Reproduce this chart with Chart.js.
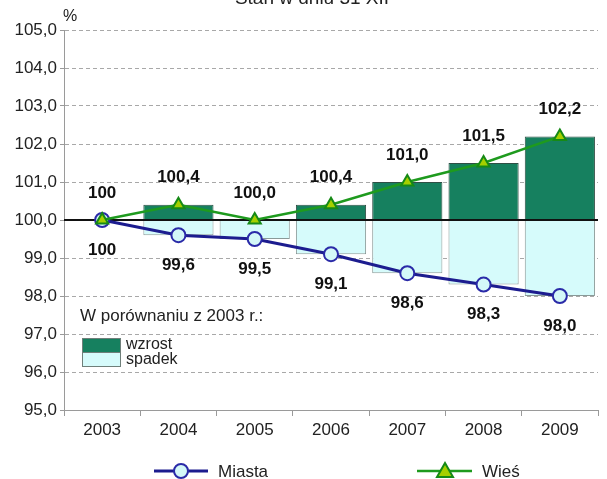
<!DOCTYPE html>
<html>
<head>
<meta charset="utf-8">
<script src="https://cdn.jsdelivr.net/npm/chart.js@4/dist/chart.umd.min.js"></script>
<style>
  html, body { margin: 0; padding: 0; background: #fff; }
  #wrap { width: 607px; height: 479px; }
</style>
</head>
<body>
<div id="wrap"><canvas id="chart" width="607" height="479"></canvas></div>
<script>
const years = ['2003', '2004', '2005', '2006', '2007', '2008', '2009'];
const miasta = [100, 99.6, 99.5, 99.1, 98.6, 98.3, 98.0];
const wies = [100, 100.4, 100.0, 100.4, 101.0, 101.5, 102.2];
const yTicks = [95, 96, 97, 98, 99, 100, 101, 102, 103, 104, 105];
const baseValue = 100;

const FONT = '"Liberation Sans", Arial, sans-serif';
const fmt = v => v.toFixed(1).replace('.', ',');
const pointLabel = (v, i) => (i === 0 ? String(v) : fmt(v));

// floating bars between 100 and each series value
const wzrost = wies.map(v => (v > baseValue ? [baseValue, v] : null));
const spadek = miasta.map(v => (v < baseValue ? [v, baseValue] : null));

const decor = {
  id: 'decor',
  afterDatasetDraw(chart, args) {
    if (args.meta.type !== 'bar') return;
    const { ctx, chartArea, scales } = chart;
    const y = scales.y.getPixelForValue(baseValue);
    ctx.save();
    ctx.strokeStyle = '#111';
    ctx.lineWidth = 2;
    ctx.beginPath();
    ctx.moveTo(chartArea.left, y);
    ctx.lineTo(chartArea.right, y);
    ctx.stroke();
    ctx.restore();
  },
  afterDraw(chart) {
    const { ctx } = chart;
    ctx.save();
    // cut-off title at the very top
    ctx.fillStyle = '#222';
    ctx.font = '19px ' + FONT;
    ctx.textAlign = 'center';
    ctx.textBaseline = 'alphabetic';
    ctx.fillText('Stan w dniu 31 XII', 312, 4);

    ctx.font = '16px ' + FONT;
    ctx.textAlign = 'left';
    ctx.textBaseline = 'middle';
    ctx.fillText('%', 63, 17);

    // value labels
    ctx.font = 'bold 17px ' + FONT;
    ctx.textAlign = 'center';
    ctx.fillStyle = '#111';
    const wMeta = chart.getDatasetMeta(3);
    const mMeta = chart.getDatasetMeta(2);
    wMeta.data.forEach((pt, i) => ctx.fillText(pointLabel(wies[i], i), pt.x, pt.y - 27));
    mMeta.data.forEach((pt, i) => ctx.fillText(pointLabel(miasta[i], i), pt.x, pt.y + 30));

    // inner legend for the bars
    ctx.font = '17px ' + FONT;
    ctx.textAlign = 'left';
    ctx.fillStyle = '#222';
    ctx.fillText('W porównaniu z 2003 r.:', 80, 316);
    ctx.fillStyle = '#16805f';
    ctx.fillRect(82, 338, 39, 14);
    ctx.fillStyle = '#d6fbfb';
    ctx.fillRect(82, 352, 39, 15);
    ctx.strokeStyle = '#6f7f7a';
    ctx.lineWidth = 1;
    ctx.strokeRect(82.5, 338.5, 38, 14);
    ctx.strokeRect(82.5, 352.5, 38, 14);
    ctx.fillStyle = '#222';
    ctx.font = '16px ' + FONT;
    ctx.fillText('wzrost', 126, 345);
    ctx.fillText('spadek', 126, 360);

    // bottom legend for the lines
    const y = 471;
    ctx.font = '17px ' + FONT;
    ctx.lineWidth = 3;
    ctx.strokeStyle = '#1c1c8f';
    ctx.beginPath(); ctx.moveTo(154, y); ctx.lineTo(208, y); ctx.stroke();
    ctx.beginPath(); ctx.arc(181, y, 7, 0, Math.PI * 2);
    ctx.fillStyle = '#d4f8f8'; ctx.fill();
    ctx.lineWidth = 2; ctx.strokeStyle = '#2a2aa8'; ctx.stroke();
    ctx.fillStyle = '#222';
    ctx.fillText('Miasta', 218, y + 1);

    ctx.lineWidth = 2.5;
    ctx.strokeStyle = '#1e9a1e';
    ctx.beginPath(); ctx.moveTo(417, y); ctx.lineTo(472, y); ctx.stroke();
    ctx.beginPath();
    ctx.moveTo(445, y - 8); ctx.lineTo(453, y + 6); ctx.lineTo(437, y + 6); ctx.closePath();
    ctx.fillStyle = '#a5d000'; ctx.fill();
    ctx.lineWidth = 2; ctx.strokeStyle = '#168a16'; ctx.stroke();
    ctx.fillStyle = '#222';
    ctx.fillText('Wieś', 482, y + 1);
    ctx.restore();
  }
};

new Chart(document.getElementById('chart'), {
  data: {
    labels: years,
    datasets: [
      {
        type: 'bar', label: 'wzrost', data: wzrost, order: 3,
        backgroundColor: '#16805f', borderColor: '#2f4f45', borderWidth: 1,
        borderSkipped: false, grouped: false, barPercentage: 0.92, categoryPercentage: 1
      },
      {
        type: 'bar', label: 'spadek', data: spadek, order: 2,
        backgroundColor: '#d6fbfb', borderColor: '#8a9a98', borderWidth: 1,
        borderSkipped: false, grouped: false, barPercentage: 0.92, categoryPercentage: 1
      },
      {
        type: 'line', label: 'Miasta', data: miasta, order: 1,
        borderColor: '#1c1c8f', borderWidth: 3, tension: 0,
        pointStyle: 'circle', pointRadius: 7, pointBackgroundColor: '#d4f8f8',
        pointBorderColor: '#2a2aa8', pointBorderWidth: 2
      },
      {
        type: 'line', label: 'Wieś', data: wies, order: 0,
        borderColor: '#1e9a1e', borderWidth: 2.5, tension: 0,
        pointStyle: 'triangle', pointRadius: 7, pointBackgroundColor: '#a5d000',
        pointBorderColor: '#168a16', pointBorderWidth: 2
      }
    ]
  },
  options: {
    responsive: false,
    animation: false,
    layout: { padding: { top: 30, right: 0, bottom: 0, left: 0 } },
    plugins: { legend: { display: false }, tooltip: { enabled: false }, title: { display: false } },
    scales: {
      x: {
        offset: true,
        afterFit: s => { s.height = 69; },
        grid: { display: true, drawOnChartArea: false, offset: true, tickLength: 6, tickColor: '#9a9a9a' },
        border: { display: true, color: '#9a9a9a', width: 1 },
        ticks: { color: '#222', font: { family: FONT, size: 17 }, padding: 4, maxRotation: 0 }
      },
      y: {
        min: yTicks[0], max: yTicks[yTicks.length - 1],
        afterFit: s => { s.width = 64; },
        afterBuildTicks: s => { s.ticks = yTicks.map(v => ({ value: v })); },
        grid: {
          color: c => (c.tick && c.tick.value === baseValue ? 'rgba(0,0,0,0)' : '#a8a8a8'),
          lineWidth: 1, tickLength: 4, tickColor: '#9a9a9a'
        },
        border: { display: true, color: '#9a9a9a', width: 1, dash: [4, 3] },
        ticks: { color: '#222', font: { family: FONT, size: 17 }, padding: 3, callback: v => fmt(v) }
      }
    }
  },
  plugins: [decor]
});
</script>
</body>
</html>
